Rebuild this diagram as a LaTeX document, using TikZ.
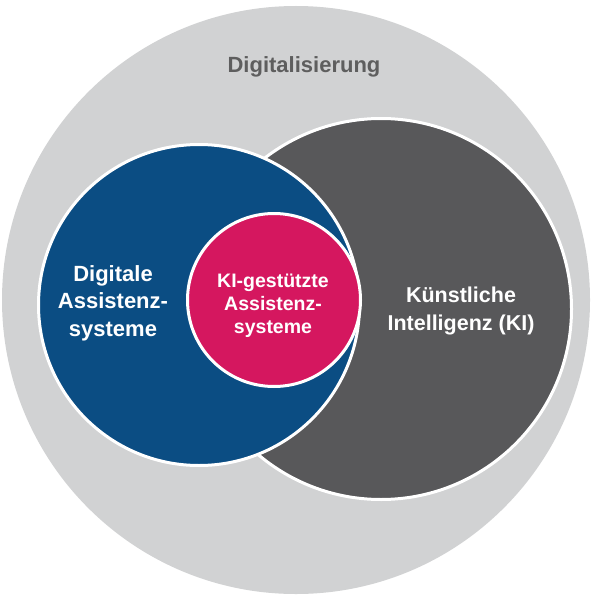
\documentclass[tikz,border=0pt]{standalone}
\usepackage{fontspec}
\setmainfont{Liberation Sans}
\definecolor{lightgrey}{HTML}{D1D2D3}
\definecolor{darkgrey}{HTML}{58585A}
\definecolor{deepblue}{HTML}{0B4D83}
\definecolor{magenta}{HTML}{D5175F}
\definecolor{labelgrey}{HTML}{5E5E5E}
\begin{document}
\begin{tikzpicture}[x=1pt,y=-1pt,
  ring/.style={circle, inner sep=0pt, draw=white, line width=3pt},
  lbl/.style={align=center, font=\bfseries, text=white}]
\useasboundingbox (0,0) rectangle (593,596);
\fill[white] (0,0) rectangle (593,596);
% outer set: digitalisation
\node[circle, inner sep=0pt, fill=lightgrey, minimum size=588pt] (digi) at (296,300) {};
% artificial intelligence
\node[ring, fill=darkgrey, minimum size=381pt] (ki) at (381,309) {};
% digital assistance systems
\node[ring, fill=deepblue, minimum size=321pt] (das) at (199,305) {};
% AI-supported assistance systems
\node[ring, fill=magenta, minimum size=173pt] (kias) at (274,300) {};
% labels
\node[align=center, text=labelgrey, font=\bfseries\fontsize{22}{26}\selectfont] (tdigi) at (304,67) {Digitalisierung};
\node[lbl, font=\bfseries\fontsize{22}{27.5}\selectfont] (tdas) at (113,303) {Digitale\\Assistenz-\\systeme};
\node[lbl, font=\bfseries\fontsize{19.5}{23}\selectfont] (tkias) at (273,306) {KI-gestützte\\Assistenz-\\systeme};
\node[lbl, font=\bfseries\fontsize{21.5}{28.5}\selectfont] (tki) at (461,311) {Künstliche\\Intelligenz (KI)};
\end{tikzpicture}
\end{document}
